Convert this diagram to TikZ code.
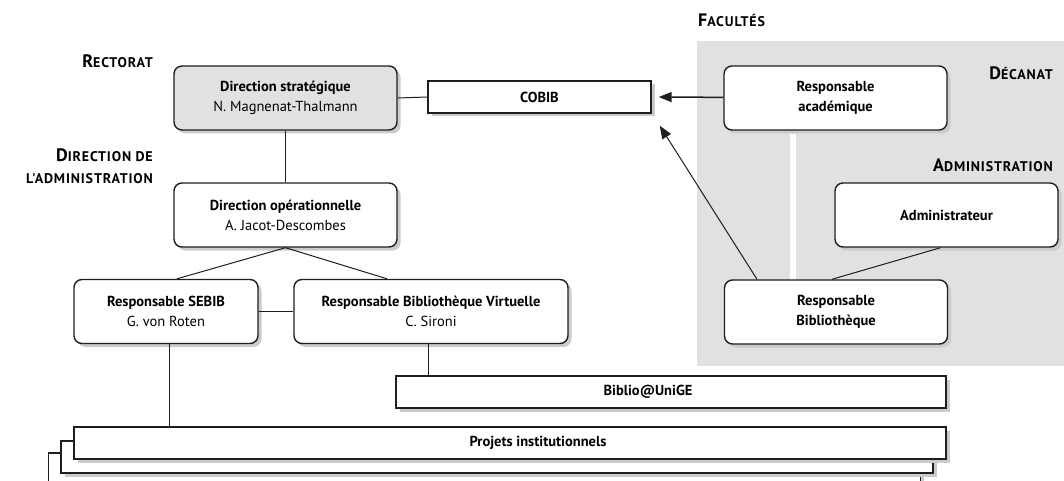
\documentclass[tikz,border=0pt]{standalone}
\usepackage{fontspec}
\setmainfont{PT Sans}
\newfontfamily\hdfont{PT Sans}[LetterSpace=6]
\usepackage{tikz}
\usetikzlibrary{arrows.meta, positioning, calc, shadows}
\definecolor{panel}{HTML}{E0E1E3}
\definecolor{shade}{HTML}{CACBCD}
\definecolor{ink}{HTML}{1E1E1E}
\newcommand{\hdg}[2]{{\fontsize{18}{22}\selectfont #1}{\fontsize{14}{22}\selectfont #2}}

\begin{document}
\begin{tikzpicture}[
  x=1pt, y=-1pt,
  box/.style={draw=ink, line width=1.4pt, rounded corners=8pt, fill=white,
              minimum width=223pt, minimum height=64pt, inner sep=2pt, align=center,
              drop shadow={shadow xshift=3.5pt, shadow yshift=-3.5pt, fill=shade, opacity=1},
              font=\fontsize{14.5}{20}\selectfont},
  bar/.style={box, sharp corners, minimum height=32pt},
  hd/.style={font=\hdfont\bfseries\fontsize{14}{22}\selectfont, align=right, inner sep=0pt},
  link/.style={draw=ink, line width=1pt},
]
\useasboundingbox (0,0) rectangle (1064,481);
\fill[panel] (697,41) rectangle (1064,366);
\fill[white] (790,134) rectangle (796,280);

\node[hd, anchor=west] (fac) at (698,20) {\hdg{F}{ACULTÉS}};
\node[hd, anchor=east] (rect) at (153,61) {\hdg{R}{ECTORAT}};
\node[hd, anchor=east] (dadm) at (153,166) {\hdg{D}{IRECTION DE}\\L'ADMINISTRATION};
\node[hd, anchor=east] (dec) at (1053,73) {\hdg{D}{ÉCANAT}};
\node[hd, anchor=east] (adm) at (1053,165) {\hdg{A}{DMINISTRATION}};

\node[box, fill=panel] (dstrat) at (285.5,98) {\bfseries Direction stratégique\\N. Magnenat-Thalmann};
\node[box] (dop) at (285.5,215) {\bfseries Direction opérationnelle\\A. Jacot-Descombes};
\node[box, minimum width=184pt] (sebib) at (166,311.5) {\bfseries Responsable SEBIB\\G. von Roten};
\node[box, minimum width=274pt] (bv) at (431,311.5) {\bfseries Responsable Bibliothèque Virtuelle\\C. Sironi};
\node[bar] (cobib) at (539.5,97) {\bfseries COBIB};
\node[box] (racad) at (835.5,98) {\bfseries Responsable\\\bfseries académique};
\node[box] (admr) at (946.5,215) {\bfseries Administrateur};
\node[box] (rbib) at (836,312) {\bfseries Responsable\\\bfseries Bibliothèque};
\node[bar, minimum width=550pt,
      label={[name=unigetxt, xshift=-23pt, font=\fontsize{14.5}{20}\selectfont\bfseries]center:Biblio@UniGE}] (unige) at (671,392) {};
\node[bar, minimum width=872pt] (proj3) at (484.5,469) {};
\node[bar, minimum width=872pt] (proj2) at (497,457) {};
\node[bar, minimum width=872pt,
      label={[name=projtxt, xshift=28pt, font=\fontsize{14.5}{20}\selectfont\bfseries]center:Projets institutionnels}] (proj) at (510,443) {};

\coordinate (cobibin) at ($(cobib.east)+(7,0)$);
\coordinate (cobibse) at ($(cobib.south east)+(8,12)$);

\draw[link] (dstrat.east) -- (cobib.west);
\draw[link] (dstrat) -- (dop);
\draw[link] (dop.south) -- ([xshift=11pt]sebib.north);
\draw[link] (dop.south) -- ([xshift=-44pt]bv.north);
\draw[link] (sebib) -- (bv);
\draw[link] ([xshift=3pt]sebib.south) -- ([xshift=3pt]sebib.south |- proj.north);
\draw[link] ([xshift=-3pt]bv.south) -- ([xshift=-3pt]bv.south |- unige.north);
\draw[link] ([xshift=-4pt]rbib.north) -- ([xshift=-6pt]admr.south);
\draw[link, line width=1.5pt, -{Triangle[length=13pt,width=10pt]}] (racad) -- (cobibin);
\draw[link, -{Triangle[length=13pt,width=10pt]}] ([xshift=-79pt]rbib.north) -- (cobibse);
\end{tikzpicture}
\end{document}
